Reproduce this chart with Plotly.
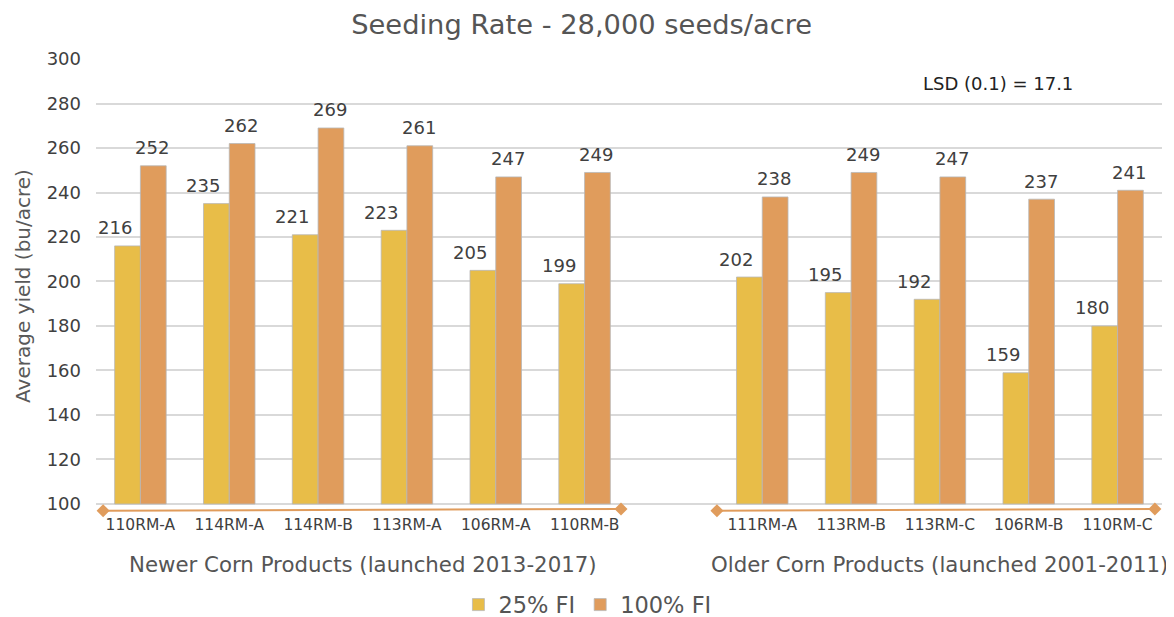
import plotly.graph_objects as go

products_newer = ["110RM-A", "114RM-A", "114RM-B", "113RM-A", "106RM-A", "110RM-B"]
products_older = ["111RM-A", "113RM-B", "113RM-C", "106RM-B", "110RM-C"]
fi25_newer = [216, 235, 221, 223, 205, 199]
fi100_newer = [252, 262, 269, 261, 247, 249]
fi25_older = [202, 195, 192, 159, 180]
fi100_older = [238, 249, 247, 237, 241]
group_labels = ["Newer Corn Products (launched 2013-2017)", "Older Corn Products (launched 2001-2011)"]
series_names = ["25% FI", "100% FI"]
colors = ["#E8BD48", "#E09C5C"]
y_base = 100
y_top = 300

# positions: newer 0..5, gap at 6, older 7..11
x_newer = list(range(len(products_newer)))
x_older = [len(products_newer) + 1 + i for i in range(len(products_older))]
xs = x_newer + x_older
labels = products_newer + products_older
fi25 = fi25_newer + fi25_older
fi100 = fi100_newer + fi100_older

FONT = "Verdana, DejaVu Sans, sans-serif"
BARGAP = 0.42
half = (1 - BARGAP) / 4  # offset of each bar's centre from the slot centre
Y_LO = 95.95  # axis extends a little below 100 to host the group brackets

fig = go.Figure()
for name, vals, col in zip(series_names, [fi25, fi100], colors):
    fig.add_trace(go.Bar(
        x=xs, y=[v - y_base for v in vals], base=y_base, name=name,
        customdata=vals, hovertemplate="%{customdata}<extra>" + name + "</extra>",
        marker=dict(color=col, line=dict(color="#b8b8b8", width=0.8)),
    ))

# value labels
for vals, sign, xsh in [(fi25, -1, -13), (fi100, 1, -1)]:
    for xv, v in zip(xs, vals):
        fig.add_annotation(x=xv + sign * half, y=v, xref="x", yref="y", text=str(v),
                           showarrow=False, xanchor="center", yanchor="middle",
                           xshift=xsh, yshift=18,
                           font=dict(size=18, color="#404040", family=FONT))

# orange group-bracket lines with diamond ends (just below the 100 line)
brackets = [(-0.42, len(products_newer) - 0.59), (len(products_newer) + 0.49, xs[-1] + 0.42)]
by0, by1 = 97.0, 97.8
for x0, x1 in brackets:
    fig.add_trace(go.Scatter(x=[x0, x1], y=[by0, by1], mode="lines+markers", showlegend=False,
                             hoverinfo="skip", cliponaxis=False,
                             line=dict(color="#E09C5C", width=2),
                             marker=dict(symbol="diamond", size=10, color="#E09C5C")))

fig.update_layout(
    width=1166, height=609,
    paper_bgcolor="white", plot_bgcolor="white",
    margin=dict(l=88, r=12, t=51, b=104, autoexpand=False),
    barmode="group", bargap=BARGAP, bargroupgap=0,
    font=dict(family=FONT, color="#404040"),
    title=dict(text="Seeding Rate - 28,000 seeds/acre", x=0.492, xanchor="center",
               yref="container", y=0.973, yanchor="middle",
               font=dict(size=27.3, color="#555555", family=FONT)),
    legend=dict(orientation="h", x=0.461, xanchor="center", y=-0.2026, yanchor="middle",
                font=dict(size=22.5, color="#555555", family=FONT), itemwidth=30,
                traceorder="normal"),
    xaxis=dict(range=[-0.5, 11.5], tickvals=xs, ticktext=labels, showgrid=False,
               tickfont=dict(size=15.5, color="#404040", family=FONT), ticks="",
               ticklabelstandoff=0, zeroline=False, showline=False),
    yaxis=dict(range=[Y_LO, y_top], tickvals=list(range(y_base, y_top + 1, 20)),
               showgrid=True, gridcolor="#d9d9d9", gridwidth=1.5,
               tickfont=dict(size=18, color="#404040", family=FONT), ticklabelstandoff=14,
               title=dict(text="Average yield (bu/acre)", font=dict(size=20, color="#595959", family=FONT),
                          standoff=10),
               zeroline=False, ticks="", showline=False),
)

for gx, txt in zip([(x_newer[0] + x_newer[-1]) / 2, (x_older[0] + x_older[-1]) / 2], group_labels):
    fig.add_annotation(x=gx, y=-0.1145, xref="x", yref="paper", text=txt, showarrow=False,
                       xanchor="center", yanchor="middle",
                       font=dict(size=21.3, color="#555555", family=FONT))

fig.add_annotation(x=0.846, y=0.945, xref="paper", yref="paper", text="LSD (0.1) = 17.1",
                   showarrow=False, xanchor="center", yanchor="middle",
                   font=dict(size=18, color="#222222", family=FONT))

fig.write_html("out.html")
